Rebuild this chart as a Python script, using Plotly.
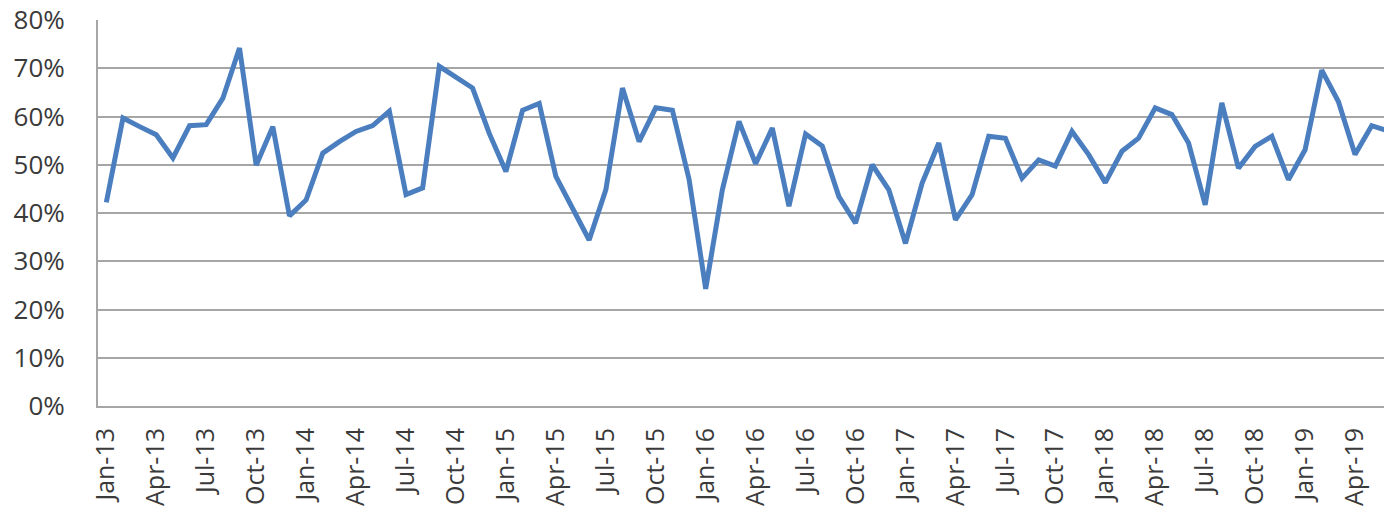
import plotly.graph_objects as go

# Monthly share, Jan-2013 .. Jun-2019 (percent)
months = [f"{m}-{y:02d}" for y in range(13, 20)
          for m in ["Jan", "Feb", "Mar", "Apr", "May", "Jun",
                    "Jul", "Aug", "Sep", "Oct", "Nov", "Dec"]][:78]

share_pct = [
    42.2, 59.7, 57.9, 56.2, 51.4, 58.1, 58.3, 63.8, 74.2, 49.9, 57.9, 39.4,
    42.7, 52.4, 54.8, 56.9, 58.1, 61.1, 43.8, 45.2, 70.4, 68.2, 65.9, 56.5,
    48.6, 61.3, 62.7, 47.6, 41.0, 34.4, 44.8, 65.9, 54.8, 61.8, 61.3, 47.0,
    24.3, 44.8, 59.0, 50.2, 57.6, 41.4, 56.4, 53.9, 43.4, 37.9, 50.0, 44.8,
    33.7, 46.2, 54.5, 38.6, 43.8, 55.9, 55.5, 47.2, 51.0, 49.7, 56.9, 52.1,
    46.3, 52.8, 55.5, 61.8, 60.4, 54.5, 41.7, 62.8, 49.3, 53.8, 55.9, 46.9,
    53.1, 69.6, 63.1, 52.1, 58.1, 57.0,
]

# Quarterly category labels on the x axis
tick_labels = months[::3]
y_ticks = [0, 10, 20, 30, 40, 50, 60, 70, 80]

axis_grey = "#A6A6A6"
text_col = "#3A3A3A"
font_family = "Open Sans"

fig = go.Figure(
    go.Scatter(
        x=months,
        y=share_pct,
        mode="lines",
        line=dict(color="#4A7EBF", width=5),
        hoverinfo="x+y",
    )
)

fig.update_layout(
    width=1384,
    height=519,
    margin=dict(l=98, r=0, t=20, b=113),
    paper_bgcolor="white",
    plot_bgcolor="white",
    showlegend=False,
    font=dict(family=font_family, size=26, color=text_col),
)

fig.update_xaxes(
    type="category",
    range=[-0.5, 76.74],
    tickmode="array",
    tickvals=tick_labels,
    ticktext=tick_labels,
    tickangle=-90,
    tickfont=dict(family=font_family, size=25, color=text_col),
    ticklabelstandoff=10,
    showgrid=False,
    showline=True,
    linecolor=axis_grey,
    linewidth=2,
    ticks="",
    zeroline=False,
)

fig.update_yaxes(
    range=[0, 80],
    tickmode="array",
    tickvals=y_ticks,
    ticktext=[f"{v}%" for v in y_ticks],
    tickfont=dict(family=font_family, size=26, color=text_col),
    ticklabelstandoff=26,
    showgrid=True,
    gridcolor=axis_grey,
    gridwidth=2,
    showline=True,
    linecolor=axis_grey,
    linewidth=2,
    ticks="",
    zeroline=False,
)

fig.write_html("out.html")
